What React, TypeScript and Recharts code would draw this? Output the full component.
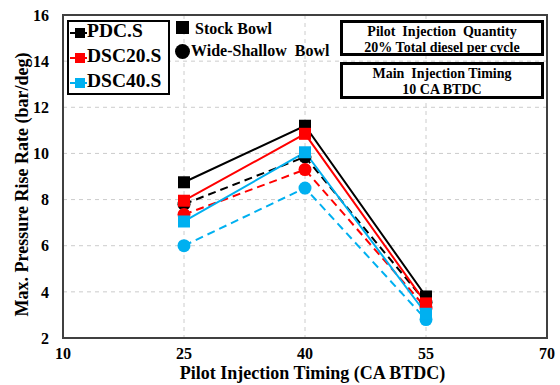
import React from 'react';
import { LineChart, Line, XAxis, YAxis, CartesianGrid } from 'recharts';

const timings = [25, 40, 55];
const pdcStock = [8.75, 11.2, 3.8];
const dsc20Stock = [7.95, 10.85, 3.5];
const dsc40Stock = [7.05, 10.05, 3.05];
const pdcWide = [7.8, 9.85, 3.55];
const dsc20Wide = [7.35, 9.3, 3.3];
const dsc40Wide = [6.0, 8.5, 2.8];
const xTicks = [10, 25, 40, 55, 70];
const yTicks = [2, 4, 6, 8, 10, 12, 14, 16];

const data = timings.map((x, i) => ({
  x,
  pdcStock: pdcStock[i],
  dsc20Stock: dsc20Stock[i],
  dsc40Stock: dsc40Stock[i],
  pdcWide: pdcWide[i],
  dsc20Wide: dsc20Wide[i],
  dsc40Wide: dsc40Wide[i],
}));

const BLACK = '#000000';
const RED = '#FF0000';
const CYAN = '#00B0F0';
const FONT = '"Liberation Serif", "Times New Roman", serif';

const squareDot = (color: string) => (props: any) => {
  const { cx, cy, index } = props;
  if (cx == null || cy == null) return <g key={index} />;
  return <rect key={`sq-${index}`} x={cx - 6} y={cy - 6} width={12} height={12} fill={color} />;
};

const tickStyle = { fontFamily: FONT, fontWeight: 'bold', fontSize: 16, fill: '#000' };

const YLabel = () => (
  <text
    x={28}
    y={184.5}
    transform="rotate(-90, 28, 184.5)"
    textAnchor="middle"
    style={{ fontFamily: FONT, fontWeight: 'bold', fontSize: 18, fill: '#000' }}
  >
    Max. Pressure Rise Rate (bar/deg)
  </text>
);

const XLabel = () => (
  <text
    x={312.5}
    y={379}
    textAnchor="middle"
    style={{ fontFamily: FONT, fontWeight: 'bold', fontSize: 18, fill: '#000' }}
  >
    Pilot Injection Timing (CA BTDC)
  </text>
);

const LegendEntry = ({ color, label, top }: { color: string; label: string; top: number }) => (
  <div style={{ position: 'absolute', left: 0, top, height: 22, display: 'flex', alignItems: 'flex-start' }}>
    <div style={{ position: 'relative', width: 18, height: 22 }}>
      <div style={{ position: 'absolute', left: 1, top: 11.5, width: 17, height: 2, background: color }} />
      <div style={{ position: 'absolute', left: 6, top: 7.5, width: 10, height: 10, background: color }} />
    </div>
    <span style={{ fontFamily: FONT, fontWeight: 'bold', fontSize: 19.5, color: '#000', lineHeight: '22px', whiteSpace: 'pre' }}>
      {label}
    </span>
  </div>
);

const boxStyle: React.CSSProperties = {
  position: 'absolute',
  boxSizing: 'border-box',
  border: '3px solid #000',
  background: '#fff',
  fontFamily: FONT,
  fontWeight: 'bold',
  fontSize: 14,
  lineHeight: '16px',
  textAlign: 'center',
  color: '#000',
  whiteSpace: 'pre',
};

export default function App() {
  return (
    <div style={{ position: 'absolute', left: 0, top: 0, width: 560, height: 385, background: '#fff' }}>
      <LineChart width={560} height={385} data={data} margin={{ top: 15, right: 13, left: 0, bottom: 0 }}>
        <CartesianGrid stroke="#cccccc" strokeDasharray="4 4" verticalPoints={[184, 305, 426]} />
        <XAxis
          dataKey="x"
          type="number"
          domain={[10, 70]}
          ticks={xTicks}
          tickLine={false}
          axisLine={false}
          tickSize={0}
          tickMargin={10}
          height={47}
          tick={tickStyle}
          interval={0}
          label={<XLabel />}
        />
        <YAxis
          type="number"
          domain={[2, 16]}
          ticks={yTicks}
          tickLine={false}
          axisLine={false}
          tickSize={0}
          tickMargin={14}
          width={63}
          tick={tickStyle}
          interval={0}
          label={<YLabel />}
        />
        <Line dataKey="pdcWide" stroke={BLACK} strokeWidth={2} strokeDasharray="8 5" dot={{ r: 6.5, fill: BLACK, stroke: 'none' }} isAnimationActive={false} />
        <Line dataKey="dsc20Wide" stroke={RED} strokeWidth={2} strokeDasharray="8 5" dot={{ r: 6.5, fill: RED, stroke: 'none' }} isAnimationActive={false} />
        <Line dataKey="dsc40Wide" stroke={CYAN} strokeWidth={2} strokeDasharray="8 5" dot={{ r: 6.5, fill: CYAN, stroke: 'none' }} isAnimationActive={false} />
        <Line dataKey="pdcStock" stroke={BLACK} strokeWidth={2} dot={squareDot(BLACK)} isAnimationActive={false} />
        <Line dataKey="dsc20Stock" stroke={RED} strokeWidth={2} dot={squareDot(RED)} isAnimationActive={false} />
        <Line dataKey="dsc40Stock" stroke={CYAN} strokeWidth={2} dot={squareDot(CYAN)} isAnimationActive={false} />
      </LineChart>

      {/* plot frame */}
      <div style={{ position: 'absolute', left: 62, top: 14, width: 486, height: 325, boxSizing: 'border-box', border: '2px solid #404040', pointerEvents: 'none' }} />

      {/* series legend */}
      <div style={{ position: 'absolute', left: 67, top: 20, width: 103, height: 75, boxSizing: 'border-box', border: '2px solid #000', background: '#fff' }}>
        <LegendEntry color={BLACK} label="PDC.S" top={-2} />
        <LegendEntry color={RED} label="DSC20.S" top={23} />
        <LegendEntry color={CYAN} label="DSC40.S" top={48} />
      </div>

      {/* bowl legend */}
      <div style={{ position: 'absolute', left: 176, top: 21, width: 13, height: 13, background: '#000' }} />
      <div style={{ position: 'absolute', left: 195, top: 19.5, fontFamily: FONT, fontWeight: 'bold', fontSize: 16, lineHeight: '18px', color: '#000', whiteSpace: 'pre' }}>Stock Bowl</div>
      <div style={{ position: 'absolute', left: 175, top: 43.5, width: 15, height: 15, borderRadius: '50%', background: '#000' }} />
      <div style={{ position: 'absolute', left: 191, top: 41.5, fontFamily: FONT, fontWeight: 'bold', fontSize: 16, lineHeight: '18px', color: '#000', whiteSpace: 'pre' }}>Wide-Shallow  Bowl</div>

      {/* info boxes */}
      <div style={{ ...boxStyle, left: 340, top: 20, width: 204, height: 36, paddingTop: 1 }}>
        {'Pilot  Injection  Quantity\n20% Total diesel per cycle'}
      </div>
      <div style={{ ...boxStyle, left: 340, top: 62, width: 204, height: 37, paddingTop: 1 }}>
        {'Main  Injection Timing\n10 CA BTDC'}
      </div>
    </div>
  );
}
